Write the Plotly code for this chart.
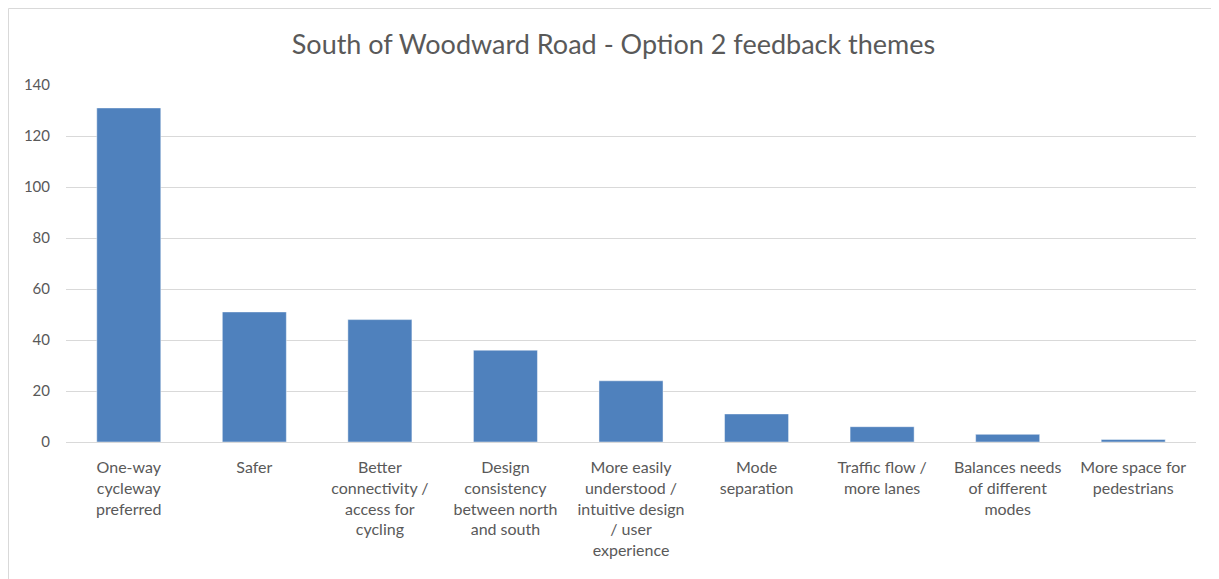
import plotly.graph_objects as go

categories = [
    "One-way<br>cycleway<br>preferred",
    "Safer",
    "Better<br>connectivity /<br>access for<br>cycling",
    "Design<br>consistency<br>between north<br>and south",
    "More easily<br>understood /<br>intuitive design<br>/ user<br>experience",
    "Mode<br>separation",
    "Traffic flow /<br>more lanes",
    "Balances needs<br>of different<br>modes",
    "More space for<br>pedestrians",
]
values = [131, 51, 48, 36, 24, 11, 6, 3, 1]
title_text = "South of Woodward Road - Option 2 feedback themes"

# page has an 8px body margin; figure sized to fill the remaining view
W, H = 1211, 571
L, R, T, B = 58, 23, 77, 137
pw, ph = W - L - R, H - T - B

def px_x(p):
    return (p - L) / pw

def px_y(p):
    return (H - B - p) / ph

fig = go.Figure(
    go.Bar(
        x=categories,
        y=values,
        marker=dict(color="#4F81BD", line=dict(color="rgba(255,255,255,0.45)", width=1)),
        width=0.51,
    )
)

fig.update_layout(
    width=W,
    height=H,
    margin=dict(l=L, r=R, t=T, b=B),
    paper_bgcolor="white",
    plot_bgcolor="white",
    showlegend=False,
    font=dict(family="Lato", color="#595959"),
    title=dict(
        text=title_text,
        x=0.5,
        xanchor="center",
        xref="container",
        y=1 - 37 / H,
        yanchor="middle",
        font=dict(size=27, color="#595959", family="Lato"),
    ),
    xaxis=dict(
        showgrid=False,
        showline=False,
        ticks="",
        tickangle=0,
        tickfont=dict(size=16, family="Lato", color="#595959"),
        ticklabelstandoff=14,
    ),
    yaxis=dict(
        range=[0, 140],
        dtick=20,
        showgrid=True,
        gridcolor="#D9D9D9",
        gridwidth=1,
        zeroline=True,
        zerolinecolor="#D9D9D9",
        zerolinewidth=1,
        showline=False,
        ticks="",
        tickfont=dict(size=15, family="Lato", color="#595959"),
        ticklabelstandoff=15,
    ),
    shapes=[
        dict(
            type="rect",
            xref="paper",
            yref="paper",
            x0=px_x(0.5),
            x1=px_x(1230),
            y0=px_y(600),
            y1=px_y(0.5),
            line=dict(color="#D9D9D9", width=1),
            fillcolor="rgba(0,0,0,0)",
            layer="below",
        )
    ],
)

fig.write_html("out.html")
